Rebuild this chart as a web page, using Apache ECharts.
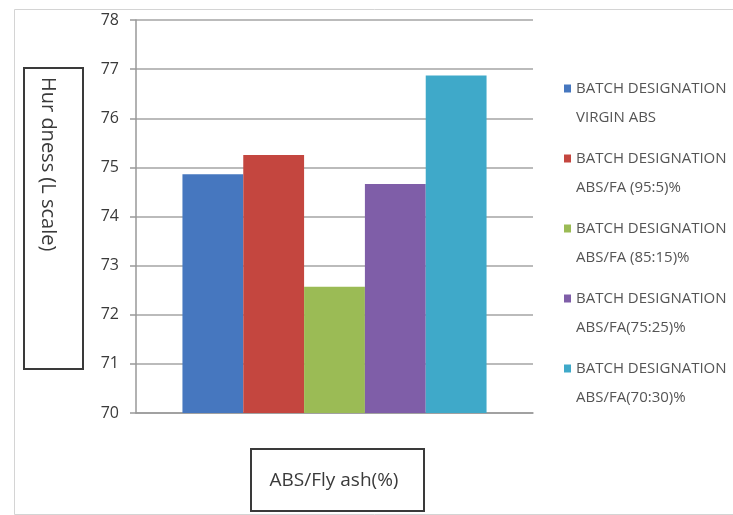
<!DOCTYPE html>
<html>
<head>
<meta charset="utf-8">
<script src="https://cdn.jsdelivr.net/npm/echarts@6/dist/echarts.min.js"></script>
<style>
html,body{margin:0;padding:0;background:#fff;}
#chart{width:733px;height:515px;}
</style>
</head>
<body>
<div id="chart"></div>
<script>
const categories = ['ABS/Fly ash(%)'];
const seriesNames = [
  'BATCH DESIGNATION\nVIRGIN ABS',
  'BATCH DESIGNATION\nABS/FA (95:5)%',
  'BATCH DESIGNATION\nABS/FA (85:15)%',
  'BATCH DESIGNATION\nABS/FA(75:25)%',
  'BATCH DESIGNATION\nABS/FA(70:30)%'
];
const hardnessValues = [74.86, 75.25, 72.57, 74.66, 76.87];
const seriesColors = ['#4677bf', '#c4463f', '#9bbb55', '#7f5ea8', '#3fa9c9'];
const yAxisTitle = 'Hur dness (L scale)';
const xAxisTitle = 'ABS/Fly ash(%)';
const yMin = 70, yMax = 78, yStep = 1;

const chart = echarts.init(document.getElementById('chart'), null, {renderer: 'canvas'});
const series = seriesNames.map((name, i) => ({
  name: name,
  type: 'bar',
  data: [hardnessValues[i]],
  barGap: '0%',
  barCategoryGap: '23.4%',
  itemStyle: {color: seriesColors[i]},
  emphasis: {disabled: true}
}));

chart.setOption({
  animation: false,
  backgroundColor: '#fff',
  grid: {left: 136, top: 20, right: 200, bottom: 102, containLabel: false},
  xAxis: {
    type: 'category',
    data: categories,
    axisLine: {show: true, lineStyle: {color: '#999', width: 1.5}},
    axisTick: {show: false},
    axisLabel: {show: false}
  },
  yAxis: {
    type: 'value',
    min: yMin, max: yMax, interval: yStep,
    axisLine: {show: true, lineStyle: {color: '#999', width: 1.5}},
    axisTick: {show: true, inside: false, length: 6, lineStyle: {color: '#999', width: 1.5}},
    axisLabel: {margin: 17, color: '#3a3a3a', fontSize: 16, fontFamily: 'Open Sans'},
    splitLine: {show: true, lineStyle: {color: '#a4a4a4', width: 1.5}}
  },
  legend: {
    orient: 'vertical',
    left: 564,
    top: 45,
    padding: 0,
    itemWidth: 7,
    itemHeight: 8,
    itemGap: -17,
    icon: 'rect',
    selectedMode: false,
    formatter: n => '\n' + n,
    textStyle: {color: '#555', fontSize: 15, fontFamily: 'Open Sans', lineHeight: 29}
  },
  graphic: [
    {type: 'rect', left: 12, top: 7, silent: true,
      shape: {width: 740, height: 505},
      style: {fill: 'none', stroke: '#d4d4d4', lineWidth: 1}},
    {type: 'rect', left: 23, top: 67, silent: true,
      shape: {width: 59, height: 301},
      style: {fill: '#fff', stroke: '#3a3a3a', lineWidth: 2}},
    {type: 'text', x: 48, y: 77, rotation: -Math.PI / 2, silent: true,
      style: {text: yAxisTitle, fill: '#3a3a3a', fontSize: 20, fontFamily: 'Open Sans',
        align: 'left', verticalAlign: 'middle'}},
    {type: 'rect', left: 250, top: 448, silent: true,
      shape: {width: 173, height: 62},
      style: {fill: '#fff', stroke: '#3a3a3a', lineWidth: 2}},
    {type: 'text', x: 334, y: 481, silent: true,
      style: {text: xAxisTitle, fill: '#3a3a3a', fontSize: 19, fontFamily: 'Open Sans',
        align: 'center', verticalAlign: 'middle'}}
  ],
  series: series
});
</script>
</body>
</html>
